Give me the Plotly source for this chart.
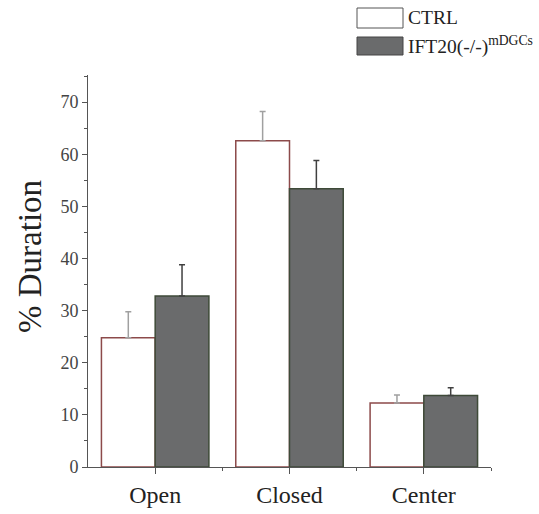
import plotly.graph_objects as go

categories = ["Open", "Closed", "Center"]
series_names = ["CTRL", "IFT20(-/-)<sup>mDGCs</sup>"]
ctrl_values = [24.8, 62.6, 12.3]
ctrl_errors = [5.0, 5.6, 1.5]
ko_values = [32.8, 53.4, 13.7]
ko_errors = [6.0, 5.4, 1.5]
y_ticks = [0, 10, 20, 30, 40, 50, 60, 70]

FONT = "Liberation Serif, Times New Roman, serif"
x_pos = list(range(len(categories)))
bw = 0.4

fig = go.Figure()
fig.add_trace(go.Bar(
    x=[p - bw / 2 for p in x_pos], y=ctrl_values, width=bw, name="CTRL",
    marker=dict(color="white", line=dict(color="#8c4a4a", width=1.5)),
    error_y=dict(type="data", array=ctrl_errors, arrayminus=[0] * 3, symmetric=False,
                 color="#a0a0a0", thickness=1.5, width=3),
    showlegend=False,
))
fig.add_trace(go.Bar(
    x=[p + bw / 2 for p in x_pos], y=ko_values, width=bw, name="IFT20",
    marker=dict(color="#6a6b6c", line=dict(color="#3e4a38", width=1.5)),
    error_y=dict(type="data", array=ko_errors, arrayminus=[0] * 3, symmetric=False,
                 color="#404040", thickness=1.5, width=3),
    showlegend=False,
))

W, H = 539, 514
L, R, T, B = 88, 48, 75, 47
pw, ph = W - L - R, H - T - B

def px(x):
    return (x - L) / pw

def py(y):
    return (H - B - y) / ph

# legend drawn manually
fig.add_shape(type="rect", xref="paper", yref="paper", x0=px(357), x1=px(403), y0=py(28), y1=py(8),
              line=dict(color="#555555", width=1), fillcolor="white")
fig.add_shape(type="rect", xref="paper", yref="paper", x0=px(357), x1=px(403), y0=py(55), y1=py(37),
              line=dict(color="#444444", width=1), fillcolor="#6a6b6c")
fig.add_annotation(xref="paper", yref="paper", x=px(406), y=py(18), text=series_names[0],
                   showarrow=False, xanchor="left", yanchor="middle",
                   font=dict(family=FONT, size=19.5, color="#222222"))
fig.add_annotation(xref="paper", yref="paper", x=px(406), y=py(46), text=series_names[1],
                   showarrow=False, xanchor="left", yanchor="middle",
                   font=dict(family=FONT, size=19.5, color="#222222"))
fig.add_annotation(xref="paper", yref="paper", x=px(30), y=py(257), text="% Duration",
                   showarrow=False, textangle=-90, xanchor="center", yanchor="middle",
                   font=dict(family=FONT, size=33, color="#222222"))

fig.update_layout(
    width=W, height=H, margin=dict(l=L, r=R, t=T, b=B, pad=0, autoexpand=False),
    paper_bgcolor="white", plot_bgcolor="white",
    barmode="overlay",
    font=dict(family=FONT),
    hovermode=False,
    xaxis=dict(range=[-0.5, 2.5], tickvals=x_pos, ticktext=categories, automargin=False,
               showgrid=False, zeroline=False, showline=True, linecolor="#555555", linewidth=1,
               ticks="outside", ticklen=6, tickcolor="#555555",
               tickfont=dict(family=FONT, size=24, color="#222222"),
               minor=dict(tickvals=[0.5, 1.5, 2.5], ticks="outside", ticklen=3, tickcolor="#555555")),
    yaxis=dict(range=[0, 75.2], tickvals=y_ticks, showgrid=False, zeroline=False, automargin=False,
               showline=True, linecolor="#555555", linewidth=1,
               ticks="outside", ticklen=5, tickcolor="#555555",
               tickfont=dict(family=FONT, size=18, color="#444444"),
               minor=dict(dtick=5, tick0=0, ticks="outside", ticklen=3, tickcolor="#555555")),
)

fig.write_html("out.html", config={"displayModeBar": False},
               post_script="document.body.style.margin='0';")
